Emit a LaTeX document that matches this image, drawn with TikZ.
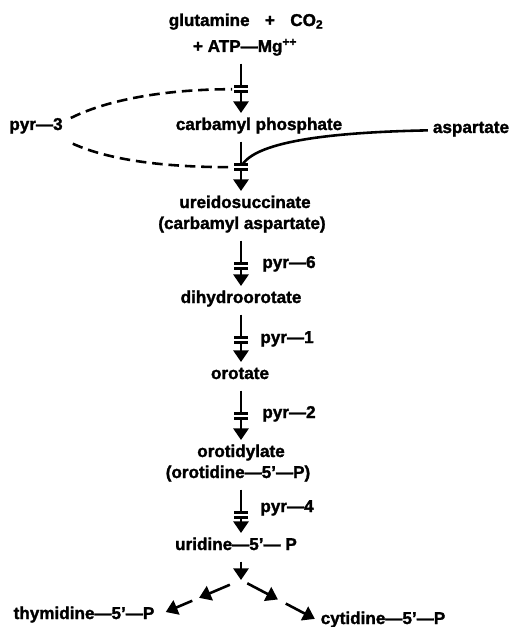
\documentclass[tikz,border=0pt]{standalone}
\usepackage{fontspec}
\setmainfont[BoldFeatures={FakeBold=1.6}]{Liberation Sans}
\usetikzlibrary{arrows.meta,calc}

% one enzymatic step: stem, split bar, arrow
\newcommand{\genestep}[3]{%
  \draw[stem] (#1.south -| ax) -- ++(0,23) coordinate (#3);
  \draw[stem] ($(#3)+(-7,0)$) -- ++(14,0) ($(#3)+(-7,5)$) -- ++(14,0);
  \draw[arr] ($(#3)+(0,5)$) -- (#2.north -| ax);
}

\begin{document}
\begin{tikzpicture}[
      x=0.03cm, y=-0.03cm,
      chem/.style={anchor=base, font=\fontsize{14.6pt}{17pt}\selectfont\bfseries, text height=8pt, text depth=3.5pt, inner xsep=1pt, inner ysep=2.5pt, outer ysep=4pt, outer xsep=0pt},
      stem/.style={line width=2.2pt, color=black},
      arr/.style={stem, -{Triangle[length=10pt, width=13pt]}},
      link/.style={line width=2.2pt, dash pattern=on 9pt off 5pt}
  ]
      \useasboundingbox (0,0) rectangle (514,627);
      \coordinate (ax) at (241,0);

      % SUBSTRATES
      \node[chem] (glu) at (246,26) {glutamine\hspace{0.9em}+\hspace{0.9em}CO\textsubscript{2}};
      \node[chem] (atp) at (245,52) {+ ATP—Mg\textsuperscript{++}};
      \node[chem] (carb) at (259,130) {carbamyl phosphate};
      \node[chem] (pyr3) at (36,130) {pyr—3};
      \node[chem] (asp) at (471,133) {aspartate};

      % MAIN CHAIN
      \node[chem] (ureido) at (245,208) {ureidosuccinate};
      \node[chem] (carbasp) at (242,229) {(carbamyl aspartate)};
      \node[chem] (dihydro) at (241,303) {dihydroorotate};
      \node[chem] (orot) at (240,379) {orotate};
      \node[chem] (orotidyl) at (241,457) {orotidylate};
      \node[chem] (orotidine) at (238,478) {(orotidine—5’—P)};
      \node[chem] (uri) at (236,550) {uridine—5’— P};
      \node[chem] (thy) at (84,619) {thymidine—5’—P};
      \node[chem] (cyt) at (383,624) {cytidine—5’—P};

      % GENES
      \node[chem] (pyr6) at (289,268) {pyr—6};
      \node[chem] (pyr1) at (287,343) {pyr—1};
      \node[chem] (pyr2) at (289,418) {pyr—2};
      \node[chem] (pyr4) at (287,512) {pyr—4};

      \genestep{atp}{carb}{g1}
      \genestep{carb}{ureido}{g2}
      \genestep{carbasp}{dihydro}{g3}
      \genestep{dihydro}{orot}{g4}
      \genestep{orot}{orotidyl}{g5}
      \genestep{orotidine}{uri}{g6}

      % pyr-3 acts on both first steps
      \draw[link] ($(pyr3.north east)+(7,5)$) .. controls +(40,-20) and +(-60,0) .. ($(g1)+(-9,2.5)$);
      \draw[link] ($(pyr3.south east)+(9,2)$) .. controls +(40,18) and +(-60,0) .. ($(g2)+(-9,2.5)$);
      \draw[stem] ($(asp.west)+(-4,0)$) .. controls +(-100,2) and +(16,-22) .. ($(g2)+(2,-1)$);

      % BRANCHES
      \coordinate (fork) at (241,580);
      \draw[arr] (uri.south -| ax) -- (fork);
      \draw[arr] ($(fork)!0.13!(thy.east)$) -- ($(fork)!0.49!(thy.east)$);
      \draw[arr] ($(fork)!0.57!(thy.east)$) -- ($(fork)!0.88!(thy.east)$);
      \draw[arr] ($(fork)!0.08!(cyt.west)$) -- ($(fork)!0.47!(cyt.west)$);
      \draw[arr] ($(fork)!0.57!(cyt.west)$) -- ($(fork)!0.94!(cyt.west)$);
  \end{tikzpicture}
\end{document}
